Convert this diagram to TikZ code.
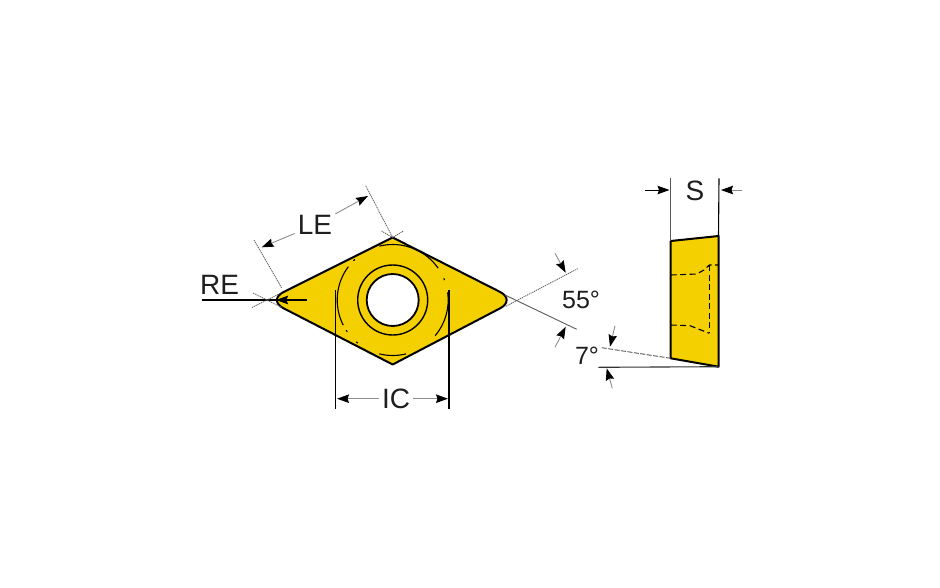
\documentclass[tikz,border=0pt]{standalone}
\usepackage{fontspec}
\setmainfont{Liberation Sans}
\usetikzlibrary{arrows.meta}
\definecolor{insert}{HTML}{F5D000}
\definecolor{ink}{HTML}{1E1E1E}
\begin{document}
\begin{tikzpicture} [
        x=1pt, y=-1pt,
        label/.style={text=ink, font=\fontsize{28}{28}\selectfont, inner sep=3pt},
        anglelabel/.style={text=ink, font=\fontsize{25}{25}\selectfont, inner sep=3pt},
        outline/.style={draw=black, line width=2pt, line join=round},
        hidden/.style={draw=black, line width=1.1pt},
        extline/.style={draw=black!65, line width=0.9pt},
        crossline/.style={draw=black!65, line width=0.8pt, dash pattern=on 1.2pt off 0.8pt},
        dimline/.style={draw=black!45, line width=0.9pt, -{Stealth[length=12pt,width=8.5pt,inset=1.5pt,black]}} ]
    \useasboundingbox (0,0) rectangle (940,587);

    % top view
    \coordinate (top) at (392.7,237.5);
    \coordinate (right) at (516,300);
    \coordinate (bottom) at (392.7,364.5);
    \coordinate (left) at (267.5,300);
    \coordinate (hole) at (392.7,300);
    \fill[insert] (top) [rounded corners=18pt] -- (right) [sharp corners] -- (bottom) [rounded corners=18pt] -- (left) [sharp corners] -- cycle;
    \foreach \from/\to in {217/153, -8/40, -76/-35, 256/284, 76/104}
        \draw[hidden] (hole) ++(\from:55.5) arc[start angle=\from, end angle=\to, radius=55.5];
    \foreach \dot in {226, 130, -22, 146}
        \draw[hidden] (hole) ++(\dot-1:55.5) arc[start angle=\dot-1, end angle=\dot+1, radius=55.5];
    \draw[outline] (top) [rounded corners=18pt] -- (right) [sharp corners] -- (bottom) [rounded corners=18pt] -- (left) [sharp corners] -- cycle;
    \node[circle, draw=black, line width=1.4pt, minimum size=70pt, inner sep=0pt] (ring) at (hole) {};
    \node[circle, draw=black, line width=1.8pt, fill=white, minimum size=52pt, inner sep=0pt] (bore) at (hole) {};

    % LE
    \node[label] (le) at (315,225) {LE};
    \coordinate (leA) at (254,240);
    \coordinate (leB) at (281.7,288);
    \coordinate (leC) at (365.7,185.7);
    \coordinate (leD) at (392.7,237.5);
    \draw[crossline] (leA) -- (leB);
    \draw[crossline] (leC) -- (leD);
    \draw[dimline] (le) -- (261.7,247.3);
    \draw[dimline] (le) -- (368,196);
    \draw[crossline] (381.5,231) -- (top) -- (403.5,231);

    % RE
    \node[label] (re) at (219.5,284.5) {RE};
    \coordinate (reStart) at (201.7,300);
    \coordinate (reEnd) at (276,300);
    \coordinate (reTail) at (307,300);
    \draw[line width=1.1pt, black] (reStart) -- (reEnd);
    \draw[line width=1.1pt, black, -{Stealth[length=12pt,width=8.5pt,inset=1.5pt]}] (reTail) -- (reEnd);
    \draw[crossline] (252,307.5) -- (282,292.5);
    \draw[crossline] (253,293) -- (282,307.5);

    % IC
    \node[label] (ic) at (396,398.7) {IC};
    \coordinate (icA) at (335.7,290);
    \coordinate (icB) at (335.7,408.5);
    \coordinate (icC) at (449,290);
    \coordinate (icD) at (449,408.5);
    \draw[line width=1.1pt, black] (icA) -- (icB);
    \draw[line width=1.1pt, black] (icC) -- (icD);
    \draw[dimline] (ic) -- (337,398.7);
    \draw[dimline] (ic) -- (448,398.7);

    % 55 degrees
    \node[anglelabel] (tip) at (581,300) {55°};
    \coordinate (tipA) at (577.7,268.7);
    \coordinate (tipB) at (505,306.7);
    \coordinate (tipC) at (576.7,329.3);
    \coordinate (tipD) at (505,295);
    \draw[crossline] (tipA) -- (tipB);
    \draw[extline] (tipC) -- (tipD);
    \draw[dimline] (555,253.3) -- (565.7,272.7);
    \draw[dimline] (555,347.3) -- (565.7,326.7);

    % side view
    \coordinate (sideA) at (670.7,241);
    \coordinate (sideB) at (718.5,236);
    \coordinate (sideC) at (718.5,366.7);
    \coordinate (sideD) at (670.7,358.3);
    \fill[insert] (sideA) -- (sideB) -- (sideC) -- (sideD) -- cycle;
    \draw[outline] (sideA) -- (sideB) -- (sideC) -- (sideD) -- cycle;
    \draw[hidden, dash pattern=on 6pt off 3.5pt] (670.7,275) -- (696.7,274) -- (704,270) -- (709.3,265) -- (718.3,265);
    \draw[hidden, dash pattern=on 6pt off 3.5pt] (709.3,265) -- (709.3,333.3);
    \draw[hidden, dash pattern=on 6pt off 3.5pt] (670.7,325) -- (690,325.7) -- (709.3,333.3);

    % S
    \node[label] (s) at (695,190.7) {S};
    \coordinate (sA) at (670.7,178.3);
    \coordinate (sB) at (719,178.3);
    \draw[extline] (sA) -- (sideA);
    \draw[line width=1.1pt, black] (sB) -- (sideB);
    \draw[dimline, draw=black] (645,190) -- (669.5,190);
    \draw[dimline] (741.7,190) -- (721,190);

    % 7 degrees
    \node[anglelabel] (rake) at (587,355.7) {7°};
    \coordinate (rakeA) at (601.7,347.7);
    \coordinate (rakeB) at (598.3,367.3);
    \draw[extline, dash pattern=on 5pt off 1.5pt] (rakeA) -- (sideD);
    \draw[line width=1.1pt, black!80] (rakeB) -- (sideC);
    \draw[dimline] (615,325.7) -- (610,346.7);
    \draw[dimline] (612.3,388.3) -- (606.7,368.3);
\end{tikzpicture}
\end{document}
